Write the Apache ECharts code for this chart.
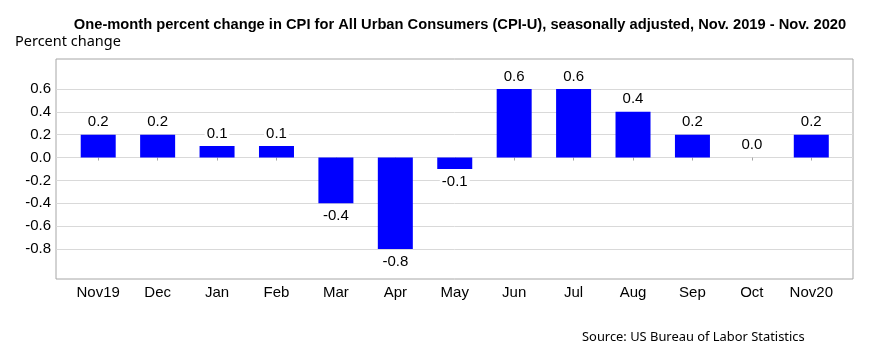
<!DOCTYPE html>
<html>
<head>
<meta charset="utf-8">
<script src="https://cdn.jsdelivr.net/npm/echarts@6/dist/echarts.min.js"></script>
<style>
  html, body { margin: 0; padding: 0; background: #fff; }
  #chart { width: 880px; height: 352px; }
</style>
</head>
<body>
<div id="chart"></div>
<script>
  // months and one-month % change (CPI-U, seasonally adjusted)
  var months = ['Nov19', 'Dec', 'Jan', 'Feb', 'Mar', 'Apr', 'May', 'Jun', 'Jul', 'Aug', 'Sep', 'Oct', 'Nov20'];
  var pctChange = [0.2, 0.2, 0.1, 0.1, -0.4, -0.8, -0.1, 0.6, 0.6, 0.4, 0.2, 0.0, 0.2];
  var yTicks = [-1.0, 0.8]; // axis range, step 0.2

  var txt = '#000';
  var lbl = 'Liberation Sans, Arial, sans-serif';

  var chart = echarts.init(document.getElementById('chart'), null, { renderer: 'canvas' });

  chart.setOption({
    animation: false,
    backgroundColor: '#fff',
    title: [{
      text: 'One-month percent change in CPI for All Urban Consumers (CPI-U), seasonally adjusted, Nov. 2019 - Nov. 2020',
      left: 455, top: 12, textAlign: 'center',
      textStyle: { fontFamily: lbl, fontWeight: 'bold', fontSize: 14.7, color: txt }
    }, {
      text: 'Percent change',
      left: 10, top: 29,
      textStyle: { fontFamily: 'Noto Sans', fontWeight: 'normal', fontSize: 14.5, color: txt }
    }, {
      text: 'Source: US Bureau of Labor Statistics',
      left: 577, top: 326,
      textStyle: { fontFamily: 'Noto Sans', fontWeight: 'normal', fontSize: 12.9, color: txt }
    }],
    grid: [
      // gridlines + y labels
      { left: 56, right: 27, top: 66, bottom: 80 },
      // bars
      { left: 68.5, right: 39, top: 66, bottom: 80 },
      // plot frame
      { left: 56, right: 27, top: 59, bottom: 73, show: true, borderColor: '#a6a6a6', borderWidth: 1, backgroundColor: 'transparent' }
    ],
    xAxis: [
      { gridIndex: 0, type: 'value', show: false },
      {
        gridIndex: 1, type: 'category', data: months, offset: 7,
        axisLine: { show: false },
        axisTick: { show: true, alignWithLabel: true, length: 3, lineStyle: { color: '#a6a6a6' } },
        axisLabel: { fontFamily: lbl, fontSize: 15, color: txt, margin: 6 }
      },
      { gridIndex: 2, type: 'value', show: false }
    ],
    yAxis: [
      {
        gridIndex: 0, type: 'value', min: yTicks[0], max: yTicks[1], interval: 0.2,
        axisLine: { show: false }, axisTick: { show: false },
        splitLine: { show: true, showMinLine: false, showMaxLine: false, lineStyle: { color: '#d9d9d9', width: 1 } },
        axisLabel: {
          fontFamily: lbl, fontSize: 15, color: txt, margin: 5,
          showMinLabel: false, showMaxLabel: false,
          formatter: function (v) { return v.toFixed(1); }
        }
      },
      { gridIndex: 1, type: 'value', min: yTicks[0], max: yTicks[1], show: false },
      { gridIndex: 2, type: 'value', show: false }
    ],
    series: [{
      type: 'bar',
      xAxisIndex: 1, yAxisIndex: 1,
      data: pctChange.map(function (v) {
        return {
          value: v,
          label: { position: v < 0 ? 'bottom' : 'top' }
        };
      }),
      barWidth: 35,
      itemStyle: { color: '#0000ff' },
      label: {
        show: true,
        fontFamily: lbl, fontSize: 15, color: txt,
        backgroundColor: '#fff', padding: [1, 2],
        distance: 4,
        formatter: function (p) { return p.value.toFixed(1); }
      }
    }]
  });
</script>
</body>
</html>
